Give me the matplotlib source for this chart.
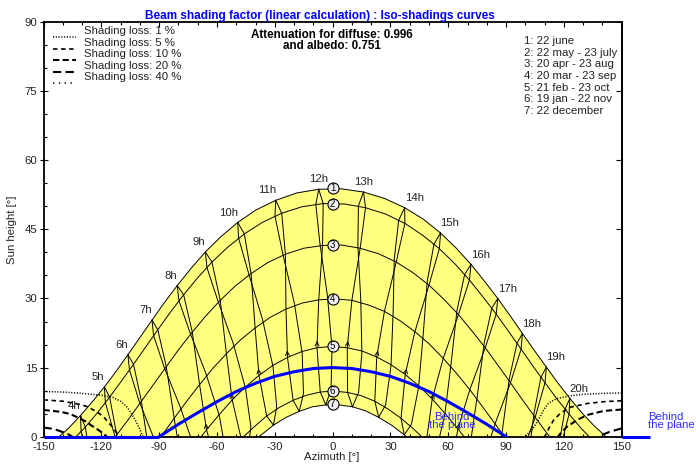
import numpy as np
import matplotlib
matplotlib.use('Agg')
import matplotlib.pyplot as plt
from matplotlib.lines import Line2D

plt.rcParams['font.family'] = ['Liberation Sans', 'DejaVu Sans']
plt.rcParams['lines.scale_dashes'] = False
plt.rcParams['axes.unicode_minus'] = False

# ---------------- data (degrees) ----------------
# date curves (azimuth, sun height), sunrise -> sunset
jun22_curve_az = [-141.9, -137.1, -130.8, -124.6, -118.4, -112.3, -106.2, -100.0, -93.7, -87.3, -80.6, -73.5,
                  -66.0, -58.0, -49.2, -39.8, -29.5, -18.6, -7.2, 4.4, 16.0, 27.0, 37.4, 47.1, 56.0, 64.2,
                  71.8, 78.9, 85.7, 92.2, 98.5, 104.7, 110.9, 117.0, 123.1, 129.3, 135.6, 141.9]
jun22_curve_h = [0, 1.8, 4.6, 7.6, 10.8, 14.2, 17.8, 21.5, 25.3, 29.1, 32.8, 36.5, 40.1, 43.4, 46.5, 49.2,
                 51.3, 52.9, 53.7, 53.8, 53.1, 51.7, 49.7, 47.2, 44.2, 40.9, 37.4, 33.7, 30.0, 26.2, 22.4,
                 18.7, 15.1, 11.6, 8.3, 5.2, 2.4, 0]
may22_curve_az = [-133.1, -128.3, -122.0, -115.7, -109.5, -103.3, -97.1, -90.7, -84.2, -77.3, -70.2, -62.6,
                  -54.5, -45.8, -36.5, -26.4, -15.9, -4.9, 6.2, 17.1, 27.6, 37.5, 46.8, 55.4, 63.5, 71.0,
                  78.1, 84.9, 91.4, 97.8, 104.0, 110.2, 116.4, 122.7, 129.0, 133.1]
may22_curve_h = [0, 2.1, 5.2, 8.6, 12.1, 15.7, 19.4, 23.2, 27.0, 30.8, 34.4, 37.9, 41.1, 44.0, 46.5, 48.5,
                 49.9, 50.6, 50.5, 49.7, 48.3, 46.3, 43.7, 40.8, 37.5, 34.0, 30.3, 26.6, 22.8, 19.0, 15.3,
                 11.7, 8.2, 4.9, 1.8, 0]
apr20_curve_az = [-112.7, -112.0, -105.5, -99.2, -92.8, -86.3, -79.7, -72.8, -65.8, -58.3, -50.5, -42.3,
                  -33.6, -24.5, -15.0, -5.2, 4.6, 14.3, 23.9, 33.0, 41.7, 50.0, 57.8, 65.3, 72.4, 79.2,
                  85.8, 92.3, 98.7, 105.1, 111.5, 112.7]
apr20_curve_h = [0, 0.4, 4.0, 7.7, 11.4, 15.2, 19.0, 22.7, 26.2, 29.6, 32.7, 35.4, 37.8, 39.6, 40.9, 41.5,
                 41.6, 40.9, 39.7, 37.9, 35.6, 32.9, 29.8, 26.5, 22.9, 19.3, 15.5, 11.7, 7.9, 4.2, 0.6, 0]
mar20_curve_az = [-89.1, -88.7, -82.2, -75.7, -69.0, -62.2, -55.1, -47.8, -40.2, -32.4, -24.2, -15.8, -7.2,
                  1.4, 10.0, 18.5, 26.9, 34.9, 42.7, 50.2, 57.4, 64.4, 71.2, 77.8, 84.3, 89.1]
mar20_curve_h = [0, 0.2, 4.0, 7.7, 11.3, 14.8, 18.0, 21.0, 23.6, 25.9, 27.7, 29.0, 29.7, 29.9, 29.6, 28.6,
                 27.2, 25.2, 22.8, 20.1, 17.0, 13.7, 10.2, 6.5, 2.8, 0]
feb21_curve_az = [-68.2, -65.4, -58.8, -52.1, -45.2, -38.2, -30.9, -23.4, -15.8, -8.1, -0.2, 7.6, 15.3,
                  22.9, 30.4, 37.7, 44.8, 51.7, 58.4, 65.0, 68.2]
feb21_curve_h = [0, 1.5, 4.8, 8.0, 10.8, 13.3, 15.5, 17.2, 18.5, 19.3, 19.6, 19.3, 18.6, 17.3, 15.6, 13.5,
                 11.0, 8.2, 5.0, 1.7, 0]
jan19_curve_az = [-46.2, -40.8, -34.2, -27.4, -20.5, -13.5, -6.4, 0.7, 7.8, 14.9, 21.9, 28.8, 35.5, 42.2, 46.2]
jan19_curve_h = [0, 2.1, 4.5, 6.4, 7.9, 9.0, 9.7, 9.9, 9.6, 8.9, 7.7, 6.0, 4.0, 1.6, 0]
dec22_curve_az = [-38.2, -37.3, -30.7, -24.1, -17.3, -10.4, -3.5, 3.4, 10.3, 17.2, 23.9, 30.6, 37.2, 38.2]
dec22_curve_h = [0, 0.3, 2.5, 4.2, 5.5, 6.5, 6.9, 6.9, 6.5, 5.6, 4.2, 2.5, 0.4, 0]

curve_numbers = ['1', '2', '3', '4', '5', '6', '7']
curve_noon_h = [53.9, 50.6, 41.6, 29.9, 19.6, 9.9, 7.0]

# sun position at each legal hour 4h..20h, per date (None = far below horizon, not drawn)
hours = [4, 5, 6, 7, 8, 9, 10, 11, 12, 13, 14, 15, 16, 17, 18, 19, 20]
jun22_az = [-130.8, -118.4, -106.2, -93.7, -80.6, -66.0, -49.2, -29.5, -7.2, 16.0, 37.4, 56.0, 71.8, 85.7, 98.5, 110.9, 123.1]
jun22_h = [4.6, 10.8, 17.8, 25.3, 32.8, 40.1, 46.5, 51.3, 53.7, 53.1, 49.7, 44.2, 37.4, 30.0, 22.4, 15.1, 8.3]
may22_az = [-128.3, -115.7, -103.3, -90.7, -77.3, -62.6, -45.8, -26.4, -4.9, 17.1, 37.5, 55.4, 71.0, 84.9, 97.8, 110.2, 122.7]
may22_h = [2.1, 8.6, 15.7, 23.2, 30.8, 37.9, 44.0, 48.5, 50.6, 49.7, 46.3, 40.8, 34.0, 26.6, 19.0, 11.7, 4.9]
jul23_az = [-130.5, -117.9, -105.4, -92.9, -79.7, -65.2, -48.8, -29.9, -8.7, 13.4, 34.3, 52.6, 68.5, 82.6, 95.7, 108.1, 120.6]
jul23_h = [1.2, 7.4, 14.5, 22.0, 29.5, 36.7, 43.1, 47.9, 50.4, 50.1, 47.0, 41.8, 35.2, 27.9, 20.3, 12.9, 6.0]
apr20_az = [-125.1, -112.0, -99.2, -86.3, -72.8, -58.3, -42.3, -24.5, -5.2, 14.3, 33.0, 50.0, 65.3, 79.2, 92.3, 105.1, 118.0]
apr20_h = [-6.3, 0.4, 7.7, 15.2, 22.7, 29.6, 35.4, 39.6, 41.5, 40.9, 37.9, 32.9, 26.5, 19.3, 11.7, 4.2, -2.8]
aug23_az = [-126.2, -113.1, -100.3, -87.4, -74.0, -59.6, -43.6, -25.9, -6.6, 13.1, 32.0, 49.1, 64.5, 78.6, 91.7, 104.5, 117.4]
aug23_h = [-6.3, 0.3, 7.6, 15.1, 22.6, 29.6, 35.5, 39.8, 42.0, 41.5, 38.6, 33.7, 27.3, 20.2, 12.6, 5.1, -2.0]
mar20_az = [None, -108.4, -95.2, -82.2, -69.0, -55.1, -40.2, -24.2, -7.2, 10.0, 26.9, 42.7, 57.4, 71.2, 84.3, 97.3, None]
mar20_h = [None, -11.0, -3.6, 4.0, 11.3, 18.0, 23.6, 27.7, 29.7, 29.6, 27.2, 22.8, 17.0, 10.2, 2.8, -4.8, None]
sep23_az = [None, -105.2, -92.1, -79.2, -65.8, -51.6, -36.4, -19.9, -2.7, 14.6, 31.4, 47.0, 61.5, 75.1, 88.1, 101.1, None]
sep23_h = [None, -8.5, -1.0, 6.6, 13.8, 20.3, 25.5, 29.1, 30.6, 29.8, 26.9, 22.1, 15.9, 8.9, 1.4, -6.2, None]
feb21_az = [None, None, None, -78.3, -65.4, -52.1, -38.2, -23.4, -8.1, 7.6, 22.9, 37.7, 51.7, 65.0, 77.9, None, None]
feb21_h = [None, None, None, -5.7, 1.5, 8.0, 13.3, 17.2, 19.3, 19.3, 17.3, 13.5, 8.2, 1.7, -5.5, None, None]
oct23_az = [None, None, None, -71.8, -58.8, -45.2, -30.9, -15.8, -0.3, 15.2, 30.3, 44.6, 58.2, 71.3, 84.1, None, None]
oct23_h = [None, None, None, -2.3, 4.6, 10.5, 15.2, 18.2, 19.3, 18.3, 15.4, 10.7, 4.8, -2.0, -9.4, None, None]
jan19_az = [None, None, None, None, -60.0, -47.4, -34.2, -20.5, -6.4, 7.8, 21.9, 35.5, 48.6, 61.3, None, None, None]
jan19_h = [None, None, None, None, -6.6, -0.5, 4.5, 7.9, 9.7, 9.6, 7.7, 4.0, -1.1, -7.3, None, None, None]
nov22_az = [None, None, None, None, -55.3, -42.4, -29.0, -15.1, -0.8, 13.5, 27.5, 40.9, 53.9, None, None, None, None]
nov22_h = [None, None, None, None, -3.6, 2.1, 6.5, 9.4, 10.4, 9.6, 6.9, 2.7, -2.9, None, None, None, None]
dec22_az = [None, None, None, None, None, -43.7, -30.7, -17.3, -3.5, 10.3, 23.9, 37.2, None, None, None, None, None]
dec22_h = [None, None, None, None, None, -2.1, 2.5, 5.5, 6.9, 6.5, 4.2, 0.4, None, None, None, None, None]

# iso-shading curves (shading loss %)
s1L_az = [-150, -140, -130, -120, -114, -110, -107, -104.5, -102, -100, -98.5]
s1L_h = [9.8, 9.7, 9.4, 9.0, 8.5, 7.7, 6.6, 5.1, 3.3, 1.6, 0]
s5L_az = [-150, -140, -132, -127, -122, -119, -116.8, -114, -112, -111]
s5L_h = [8.0, 7.7, 7.1, 6.5, 5.3, 4.4, 3.3, 2.0, 0.8, 0]
s10L_az = [-150, -141, -136, -132.4, -128, -125.4, -122, -120, -117]
s10L_h = [5.8, 5.4, 4.9, 4.2, 3.3, 2.5, 1.6, 1.0, 0]
s20L_az = [-150, -145, -142.7, -140, -137.5, -135]
s20L_h = [2.0, 1.7, 1.4, 1.0, 0.6, 0]
s1R_az = [150, 140, 130, 122, 116, 112, 109.5, 107, 104, 101, 100]
s1R_h = [9.5, 9.4, 9.2, 8.8, 8.2, 7.3, 5.8, 3.8, 1.8, 0.5, 0]
s5R_az = [150, 140.7, 132, 123.4, 118.2, 114.7, 112.2, 110.5, 110]
s5R_h = [7.8, 7.6, 7.2, 6.4, 5.1, 3.6, 1.8, 0.4, 0]
s10R_az = [150, 140.7, 132, 126.8, 121.7, 118.2, 117]
s10R_h = [5.9, 5.6, 4.7, 3.6, 2.2, 0.7, 0]
s20R_az = [150, 144, 139.8, 138]
s20R_h = [1.8, 1.1, 0.4, 0]
loss_levels = [1, 5, 10, 20, 40]

# "behind the plane" horizon line
blue_az = [-90, -80, -70, -60, -50, -40, -30, -20, -10, 0, 10, 20, 30, 40, 50, 60, 70, 80, 90]
blue_h = [0, 2.7, 5.2, 7.6, 9.8, 11.6, 13.1, 14.1, 14.8, 15.0, 14.8, 14.1, 13.1, 11.6, 9.8, 7.6, 5.2, 2.7, 0]
blue_left_az = [-150, -90]
blue_right_az = [150, 164.5]

date_legend = ['1: 22 june', '2: 22 may - 23 july', '3: 20 apr - 23 aug', '4: 20 mar - 23 sep',
               '5: 21 feb - 23 oct', '6: 19 jan - 22 nov', '7: 22 december']

# ---------------- figure ----------------
W, Hpx = 696, 466
fig = plt.figure(figsize=(W/100, Hpx/100), dpi=100)
AX_L, AX_R, AX_T, AX_B = 43.5, 621.7, 22.0, 436.7
ax = fig.add_axes([AX_L/W, 1-AX_B/Hpx, (AX_R-AX_L)/W, (AX_B-AX_T)/Hpx])
ax.set_xlim(-150, 150)
ax.set_ylim(0, 90)
for s in ax.spines.values():
    s.set_linewidth(1.3)
FS = 8.2
TC = '#222222'
ax.set_xticks(np.arange(-150, 151, 30))
ax.set_xticks(np.arange(-150, 151, 10), minor=True)
ax.set_yticks(np.arange(0, 91, 15))
ax.set_yticks(np.arange(0, 91, 5), minor=True)
ax.tick_params(axis='x', which='major', direction='in', top=True, bottom=True, length=3.5, width=0.8,
               labelsize=FS, labelcolor=TC, pad=3.5)
ax.tick_params(axis='x', which='minor', direction='in', top=True, bottom=True, length=2.5, width=0.8)
ax.tick_params(axis='y', which='major', direction='inout', left=True, right=False, length=6, width=0.8,
               labelsize=FS, labelcolor=TC, pad=1.5)
ax.tick_params(axis='y', which='minor', direction='in', left=True, right=False, length=2.5, width=0.8)
sec = ax.secondary_yaxis('right')
sec.set_yticks(np.arange(0, 91, 15))
sec.tick_params(direction='in', length=4, width=0.8, labelright=False)
sec.spines['right'].set_linewidth(1.3)

curves = [(jun22_curve_az, jun22_curve_h), (may22_curve_az, may22_curve_h), (apr20_curve_az, apr20_curve_h),
          (mar20_curve_az, mar20_curve_h), (feb21_curve_az, feb21_curve_h), (jan19_curve_az, jan19_curve_h),
          (dec22_curve_az, dec22_curve_h)]

ax.fill(np.r_[jun22_curve_az, dec22_curve_az[::-1]], np.r_[jun22_curve_h, dec22_curve_h[::-1]],
        color='#FFFF80', zorder=1, lw=0)
for ca, ch in curves:
    ax.plot(ca, ch, color='k', lw=0.7, zorder=3)


def arr(v):
    return np.array(v, dtype=float)


pts = {'jun22': (arr(jun22_az), arr(jun22_h)), 'may22': (arr(may22_az), arr(may22_h)),
       'jul23': (arr(jul23_az), arr(jul23_h)), 'apr20': (arr(apr20_az), arr(apr20_h)),
       'aug23': (arr(aug23_az), arr(aug23_h)), 'mar20': (arr(mar20_az), arr(mar20_h)),
       'sep23': (arr(sep23_az), arr(sep23_h)), 'feb21': (arr(feb21_az), arr(feb21_h)),
       'oct23': (arr(oct23_az), arr(oct23_h)), 'jan19': (arr(jan19_az), arr(jan19_h)),
       'nov22': (arr(nov22_az), arr(nov22_h)), 'dec22': (arr(dec22_az), arr(dec22_h))}
branch_a = ['dec22', 'jan19', 'feb21', 'mar20', 'apr20', 'may22', 'jun22']
branch_b = ['jun22', 'jul23', 'aug23', 'sep23', 'oct23', 'nov22', 'dec22']

for i, hr in enumerate(hours):
    for br in (branch_a, branch_b):
        ax.plot([pts[n][0][i] for n in br], [pts[n][1][i] for n in br], color='k', lw=0.7, zorder=3)
    fa, fh = pts['feb21'][0][i], pts['feb21'][1][i]
    ma, mh = pts['mar20'][0][i], pts['mar20'][1][i]
    if np.isfinite(fa) and np.isfinite(ma):
        tip = (fa+0.2*(ma-fa), fh+0.2*(mh-fh))
        tail = (fa+0.06*(ma-fa), fh+0.06*(mh-fh))
        if tail[1] > 0.3:
            ax.annotate('', xy=tip, xytext=tail, zorder=4,
                        arrowprops=dict(arrowstyle='->', lw=0.7, color='k', mutation_scale=7))
    a, h = pts['jun22'][0][i], pts['jun22'][1][i]
    ha = 'right' if a < -15 else ('left' if a > 25 else 'center')
    ax.annotate(f'{hr}h', xy=(a, h), xytext=(0, 3.5), textcoords='offset points', ha=ha, va='bottom',
                fontsize=FS, color=TC, zorder=6)

sty = {1: dict(ls=(0, (0.8, 1.2)), lw=1.1), 5: dict(ls=(0, (3.2, 2.6)), lw=1.2),
       10: dict(ls=(0, (4.5, 2.4)), lw=1.5), 20: dict(ls=(0, (6, 3)), lw=1.5), 40: dict(ls=(0, (1, 3.2)), lw=1.1)}
for (a, h, k) in [(s1L_az, s1L_h, 1), (s5L_az, s5L_h, 5), (s10L_az, s10L_h, 10), (s20L_az, s20L_h, 20),
                  (s1R_az, s1R_h, 1), (s5R_az, s5R_h, 5), (s10R_az, s10R_h, 10), (s20R_az, s20R_h, 20)]:
    ax.plot(a, h, color='k', zorder=5, **sty[k])

BLUE = '#0000ff'
ax.plot(blue_left_az, [0, 0], color=BLUE, lw=2.2, zorder=9, clip_on=False, solid_capstyle='butt')
ax.plot(blue_az, blue_h, color=BLUE, lw=2.2, zorder=9)
ax.plot(blue_right_az, [0, 0], color=BLUE, lw=2.2, zorder=9, clip_on=False, solid_capstyle='butt')

for lbl, y in zip(curve_numbers, curve_noon_h):
    ax.plot(0, y, 'o', ms=8, mfc='#eeeeee', mec='k', mew=0.8, zorder=7)
    ax.text(0, y, lbl, ha='center', va='center', fontsize=7, zorder=8)


def ft(x, y, s, **kw):
    fig.text(x/W, 1-y/Hpx, s, **kw)


ft(319.5, 19.5, 'Beam shading factor (linear calculation) : Iso-shadings curves', ha='center', va='baseline',
   fontsize=8.5, fontweight='bold', color=BLUE)
ft(332, 37.5, 'Attenuation for diffuse: 0.996', ha='center', va='baseline', fontsize=8.4, fontweight='bold')
ft(332, 49.2, 'and albedo: 0.751', ha='center', va='baseline', fontsize=8.4, fontweight='bold')
for j, k in enumerate(loss_levels):
    yb = 34.3 + 11.5*j
    ft(84.3, yb, f'Shading loss: {k} %', ha='left', va='baseline', fontsize=FS, color=TC)
    fig.add_artist(Line2D([52.5/W, 76/W], [1-(yb+3)/Hpx]*2, color='k', **sty[k]))
for j, s in enumerate(date_legend):
    ft(524, 44 + 11.67*j, s, ha='left', va='baseline', fontsize=FS, color=TC)
ft(452, 420, 'Behind', ha='center', va='baseline', fontsize=FS, color='#3030ff')
ft(452, 428.5, 'the plane', ha='center', va='baseline', fontsize=FS, color='#3030ff')
ft(648.5, 420, 'Behind', ha='left', va='baseline', fontsize=FS, color='#3030ff')
ft(648.5, 428.5, 'the plane', ha='left', va='baseline', fontsize=FS, color='#3030ff')
ft(332, 460, 'Azimuth [°]', ha='center', va='baseline', fontsize=FS, color=TC)
ft(12, 230, 'Sun height [°]', ha='center', va='center', rotation=90, fontsize=FS, color=TC)

fig.savefig('out.png', dpi=100)
